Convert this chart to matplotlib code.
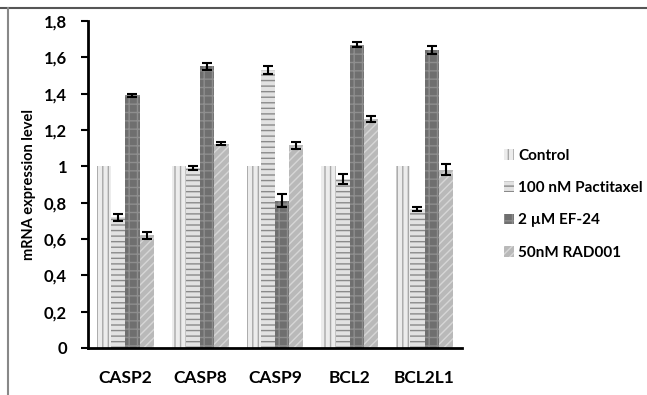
import numpy as np
import matplotlib.pyplot as plt
from matplotlib.lines import Line2D

plt.rcParams['font.family'] = ['Lato', 'DejaVu Sans']
plt.rcParams['hatch.linewidth'] = 1.0

genes = ['CASP2', 'CASP8', 'CASP9', 'BCL2', 'BCL2L1']
series = ['Control', '100 nM Pactitaxel', '2 µM EF-24', '50nM RAD001']
values = [
    [1.0, 1.0, 1.0, 1.0, 1.0],
    [0.72, 0.99, 1.53, 0.93, 0.765],
    [1.39, 1.55, 0.81, 1.67, 1.64],
    [0.62, 1.125, 1.115, 1.26, 0.98],
]
errors = [
    [0, 0, 0, 0, 0],
    [0.02, 0.012, 0.02, 0.025, 0.01],
    [0.01, 0.02, 0.035, 0.015, 0.02],
    [0.02, 0.01, 0.02, 0.015, 0.03],
]
yticks = [0, 0.2, 0.4, 0.6, 0.8, 1.0, 1.2, 1.4, 1.6, 1.8]
ytick_labels = ['0', '0,2', '0,4', '0,6', '0,8', '1', '1,2', '1,4', '1,6', '1,8']

styles = [
    dict(facecolor='#ececec', edgecolor='#a8a8a8', hatch='|||'),
    dict(facecolor='#e2e2e2', edgecolor='#8a8a8a', hatch='---'),
    dict(facecolor='#6f6f6f', edgecolor='#8e8e8e', hatch='++'),
    dict(facecolor='#b9b9b9', edgecolor='#d6d6d6', hatch='////'),
]

fig = plt.figure(figsize=(6.47, 3.95), dpi=100)
ax = fig.add_axes([0.136, 0.119, 0.578, 0.828])

x = np.arange(len(genes))
w = 0.19
for i, name in enumerate(series):
    pos = x + (i - 1.5) * w
    ax.bar(pos, values[i], w, label=name, linewidth=0, **styles[i])
    if i > 0:
        ax.errorbar(pos, values[i], yerr=errors[i], fmt='none', ecolor='black',
                    elinewidth=1.5, capsize=3.5, capthick=1.5)

ax.set_xlim(-0.5, len(genes) - 0.5)
ax.set_ylim(0, 1.8)
ax.set_yticks(yticks)
ax.set_yticklabels(ytick_labels, fontsize=12, fontweight='bold')
ax.set_xticks(x)
ax.set_xticklabels(genes, fontsize=12.5, fontweight='bold')
ax.tick_params(axis='x', length=0, pad=16)
ax.tick_params(axis='y', length=5, width=1.5, pad=10)
ax.spines['top'].set_visible(False)
ax.spines['right'].set_visible(False)
ax.spines['left'].set_linewidth(2)
ax.spines['bottom'].set_linewidth(2)
ax.set_ylabel('mRNA expression level', fontsize=10.5, fontweight='bold', labelpad=6)

leg = ax.legend(loc='center left', bbox_to_anchor=(1.075, 0.44), frameon=False,
                handlelength=0.7, handleheight=0.7, labelspacing=1.2,
                handletextpad=0.25, prop={'weight': 'bold', 'size': 11})

fig.add_artist(Line2D([0, 1], [1 - 8 / 395, 1 - 8 / 395], color='#555555', lw=1.5))
fig.add_artist(Line2D([8 / 647, 8 / 647], [0, 1 - 8 / 395], color='#888888', lw=1.5))

fig.savefig('out.png', dpi=100)
